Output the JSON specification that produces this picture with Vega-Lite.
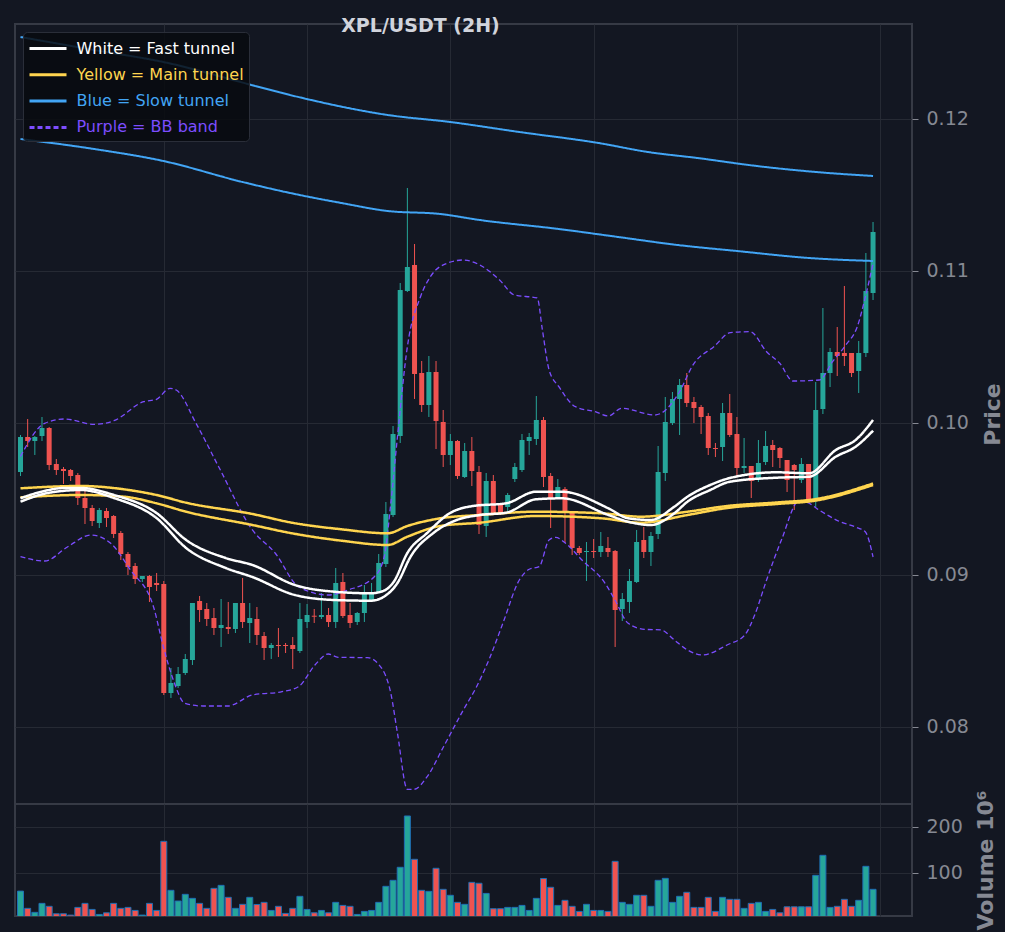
{
  "$schema": "https://vega.github.io/schema/vega-lite/v6.json",
  "background": "#131722",
  "padding": {"left": 14, "top": 16, "right": 0, "bottom": 0},
  "spacing": 0,
  "bounds": "flush",
  "datasets": {
    "candles": [
      {"i":0,"o":0.096776,"h":0.099211,"l":0.096513,"c":0.099079,"v":60},
      {"i":1,"o":0.099079,"h":0.100263,"l":0.098421,"c":0.098816,"v":22.6},
      {"i":2,"o":0.098816,"h":0.099145,"l":0.097895,"c":0.099079,"v":13.9},
      {"i":3,"o":0.099145,"h":0.100395,"l":0.098816,"c":0.099671,"v":33.4},
      {"i":4,"o":0.099671,"h":0.099737,"l":0.096908,"c":0.097237,"v":27},
      {"i":5,"o":0.097303,"h":0.097632,"l":0.096579,"c":0.096908,"v":10.9},
      {"i":6,"o":0.096974,"h":0.097105,"l":0.095987,"c":0.096842,"v":10.9},
      {"i":7,"o":0.096908,"h":0.096974,"l":0.096184,"c":0.096513,"v":8},
      {"i":8,"o":0.096579,"h":0.096711,"l":0.094605,"c":0.095066,"v":24.7},
      {"i":9,"o":0.095066,"h":0.095592,"l":0.093355,"c":0.094408,"v":33.4},
      {"i":10,"o":0.094408,"h":0.094605,"l":0.093224,"c":0.093553,"v":20.3},
      {"i":11,"o":0.093421,"h":0.094408,"l":0.093092,"c":0.094276,"v":9.4},
      {"i":12,"o":0.094211,"h":0.094408,"l":0.093158,"c":0.09375,"v":13},
      {"i":13,"o":0.093882,"h":0.093947,"l":0.092434,"c":0.092697,"v":33.4},
      {"i":14,"o":0.092763,"h":0.092895,"l":0.090987,"c":0.091382,"v":22.6},
      {"i":15,"o":0.091382,"h":0.091513,"l":0.09,"c":0.090526,"v":24.7},
      {"i":16,"o":0.090592,"h":0.090789,"l":0.089408,"c":0.089737,"v":18.1},
      {"i":17,"o":0.089737,"h":0.089934,"l":0.089539,"c":0.089934,"v":8},
      {"i":18,"o":0.089934,"h":0.09,"l":0.088224,"c":0.089211,"v":33.4},
      {"i":19,"o":0.089474,"h":0.090132,"l":0.088947,"c":0.089342,"v":18.1},
      {"i":20,"o":0.089408,"h":0.089605,"l":0.082105,"c":0.082237,"v":168},
      {"i":21,"o":0.082237,"h":0.083882,"l":0.081908,"c":0.082895,"v":61.7},
      {"i":22,"o":0.082697,"h":0.083947,"l":0.082566,"c":0.083487,"v":38.5},
      {"i":23,"o":0.083553,"h":0.084803,"l":0.083421,"c":0.084474,"v":53},
      {"i":24,"o":0.084408,"h":0.088158,"l":0.084079,"c":0.088158,"v":44.3},
      {"i":25,"o":0.088289,"h":0.088618,"l":0.086908,"c":0.087697,"v":33.4},
      {"i":26,"o":0.087763,"h":0.088158,"l":0.086645,"c":0.087105,"v":22.6},
      {"i":27,"o":0.087171,"h":0.087829,"l":0.086053,"c":0.086513,"v":66},
      {"i":28,"o":0.086513,"h":0.088421,"l":0.085263,"c":0.086711,"v":72.5},
      {"i":29,"o":0.086579,"h":0.088224,"l":0.086118,"c":0.086447,"v":46.5},
      {"i":30,"o":0.086447,"h":0.088158,"l":0.086184,"c":0.088158,"v":22.6},
      {"i":31,"o":0.088158,"h":0.089803,"l":0.086513,"c":0.086908,"v":31.3},
      {"i":32,"o":0.086842,"h":0.088158,"l":0.085526,"c":0.087171,"v":46.5},
      {"i":33,"o":0.087105,"h":0.087895,"l":0.085395,"c":0.086053,"v":31},
      {"i":34,"o":0.085987,"h":0.08625,"l":0.084408,"c":0.085197,"v":35.6},
      {"i":35,"o":0.085197,"h":0.085526,"l":0.084474,"c":0.085395,"v":18.1},
      {"i":36,"o":0.085395,"h":0.086513,"l":0.084605,"c":0.085329,"v":27},
      {"i":37,"o":0.085395,"h":0.085526,"l":0.084868,"c":0.085329,"v":11.6},
      {"i":38,"o":0.085395,"h":0.085921,"l":0.083816,"c":0.085132,"v":22.6},
      {"i":39,"o":0.085,"h":0.088158,"l":0.084868,"c":0.087105,"v":48.7},
      {"i":40,"o":0.086908,"h":0.088092,"l":0.086513,"c":0.087368,"v":20.3},
      {"i":41,"o":0.08732,"h":0.087763,"l":0.086842,"c":0.087257,"v":13},
      {"i":42,"o":0.087237,"h":0.088816,"l":0.087105,"c":0.087368,"v":18.1},
      {"i":43,"o":0.087368,"h":0.087829,"l":0.086579,"c":0.086908,"v":13},
      {"i":44,"o":0.086908,"h":0.090461,"l":0.086513,"c":0.089474,"v":35.6},
      {"i":45,"o":0.089539,"h":0.090132,"l":0.087171,"c":0.087303,"v":29},
      {"i":46,"o":0.087368,"h":0.088158,"l":0.086513,"c":0.086842,"v":27},
      {"i":47,"o":0.086908,"h":0.087566,"l":0.086711,"c":0.0875,"v":9.4},
      {"i":48,"o":0.0875,"h":0.089342,"l":0.086908,"c":0.088816,"v":16},
      {"i":49,"o":0.088355,"h":0.089474,"l":0.088224,"c":0.088816,"v":18.1},
      {"i":50,"o":0.088882,"h":0.091382,"l":0.088816,"c":0.090789,"v":35.6},
      {"i":51,"o":0.090724,"h":0.094803,"l":0.090526,"c":0.094013,"v":70.4},
      {"i":52,"o":0.093947,"h":0.099803,"l":0.093816,"c":0.099276,"v":83.4},
      {"i":53,"o":0.099145,"h":0.109211,"l":0.098684,"c":0.10875,"v":111.7},
      {"i":54,"o":0.108684,"h":0.115461,"l":0.108618,"c":0.110263,"v":223},
      {"i":55,"o":0.110395,"h":0.111776,"l":0.101579,"c":0.103224,"v":129},
      {"i":56,"o":0.103289,"h":0.104079,"l":0.100724,"c":0.101184,"v":61.7},
      {"i":57,"o":0.101184,"h":0.104408,"l":0.100395,"c":0.103355,"v":59.5},
      {"i":58,"o":0.103355,"h":0.104079,"l":0.098289,"c":0.100132,"v":109.5},
      {"i":59,"o":0.100066,"h":0.100855,"l":0.097105,"c":0.097895,"v":63.9},
      {"i":60,"o":0.097895,"h":0.099276,"l":0.097237,"c":0.098816,"v":50.9},
      {"i":61,"o":0.098816,"h":0.098882,"l":0.096316,"c":0.096513,"v":35.6},
      {"i":62,"o":0.096447,"h":0.098684,"l":0.096382,"c":0.098158,"v":31.3},
      {"i":63,"o":0.098158,"h":0.099079,"l":0.095855,"c":0.096842,"v":79},
      {"i":64,"o":0.096776,"h":0.097171,"l":0.092697,"c":0.093289,"v":77},
      {"i":65,"o":0.093224,"h":0.096711,"l":0.0925,"c":0.096184,"v":55},
      {"i":66,"o":0.096184,"h":0.096579,"l":0.093947,"c":0.094079,"v":21.8},
      {"i":67,"o":0.094605,"h":0.094737,"l":0.093947,"c":0.094079,"v":21.8},
      {"i":68,"o":0.094474,"h":0.095395,"l":0.094079,"c":0.095263,"v":24.7},
      {"i":69,"o":0.096316,"h":0.097368,"l":0.096118,"c":0.097105,"v":24.7},
      {"i":70,"o":0.096908,"h":0.099276,"l":0.096776,"c":0.098882,"v":29},
      {"i":71,"o":0.098816,"h":0.099342,"l":0.097895,"c":0.099079,"v":18.1},
      {"i":72,"o":0.098947,"h":0.101776,"l":0.098553,"c":0.100197,"v":44.3},
      {"i":73,"o":0.100197,"h":0.100395,"l":0.095789,"c":0.096447,"v":87.3},
      {"i":74,"o":0.096513,"h":0.096711,"l":0.093092,"c":0.095066,"v":68.3},
      {"i":75,"o":0.095132,"h":0.096316,"l":0.095066,"c":0.095789,"v":29},
      {"i":76,"o":0.095658,"h":0.095789,"l":0.092105,"c":0.094079,"v":40},
      {"i":77,"o":0.094079,"h":0.094079,"l":0.091316,"c":0.091776,"v":27},
      {"i":78,"o":0.091776,"h":0.091908,"l":0.091316,"c":0.091447,"v":16},
      {"i":79,"o":0.091513,"h":0.092171,"l":0.089605,"c":0.091579,"v":31.3},
      {"i":80,"o":0.091579,"h":0.092368,"l":0.091118,"c":0.091513,"v":18.1},
      {"i":81,"o":0.091513,"h":0.092829,"l":0.091184,"c":0.091908,"v":18.1},
      {"i":82,"o":0.091776,"h":0.0925,"l":0.091184,"c":0.091513,"v":16},
      {"i":83,"o":0.091579,"h":0.091645,"l":0.085263,"c":0.087697,"v":124.6},
      {"i":84,"o":0.087763,"h":0.088816,"l":0.086974,"c":0.088421,"v":35.6},
      {"i":85,"o":0.088224,"h":0.090395,"l":0.0875,"c":0.089605,"v":31.3},
      {"i":86,"o":0.089539,"h":0.092961,"l":0.089474,"c":0.092171,"v":50.9},
      {"i":87,"o":0.092303,"h":0.093158,"l":0.091118,"c":0.091513,"v":50.9},
      {"i":88,"o":0.091513,"h":0.092829,"l":0.090592,"c":0.092566,"v":27},
      {"i":89,"o":0.092697,"h":0.098487,"l":0.092368,"c":0.096776,"v":83.4},
      {"i":90,"o":0.096711,"h":0.101711,"l":0.096184,"c":0.100066,"v":87.7},
      {"i":91,"o":0.1,"h":0.102039,"l":0.099868,"c":0.101579,"v":35.6},
      {"i":92,"o":0.101579,"h":0.102895,"l":0.099211,"c":0.1025,"v":48.7},
      {"i":93,"o":0.1025,"h":0.103289,"l":0.101053,"c":0.101316,"v":57.4},
      {"i":94,"o":0.101382,"h":0.101711,"l":0.1,"c":0.100987,"v":24.7},
      {"i":95,"o":0.101053,"h":0.101184,"l":0.099276,"c":0.100395,"v":24.7},
      {"i":96,"o":0.100461,"h":0.100658,"l":0.097895,"c":0.098355,"v":46.5},
      {"i":97,"o":0.098355,"h":0.098684,"l":0.097763,"c":0.098289,"v":16},
      {"i":98,"o":0.098421,"h":0.101316,"l":0.0975,"c":0.100658,"v":46.5},
      {"i":99,"o":0.100658,"h":0.101908,"l":0.099079,"c":0.099211,"v":42.2},
      {"i":100,"o":0.099276,"h":0.100395,"l":0.096447,"c":0.097039,"v":42.2},
      {"i":101,"o":0.097039,"h":0.099013,"l":0.096711,"c":0.097171,"v":22.6},
      {"i":102,"o":0.097171,"h":0.097171,"l":0.095066,"c":0.096184,"v":33.4},
      {"i":103,"o":0.09625,"h":0.098882,"l":0.096118,"c":0.097368,"v":35.6},
      {"i":104,"o":0.097434,"h":0.099474,"l":0.097237,"c":0.098487,"v":16},
      {"i":105,"o":0.098553,"h":0.098882,"l":0.097105,"c":0.098224,"v":20.3},
      {"i":106,"o":0.098355,"h":0.098421,"l":0.097039,"c":0.097697,"v":13},
      {"i":107,"o":0.097566,"h":0.097566,"l":0.095461,"c":0.09625,"v":26},
      {"i":108,"o":0.097237,"h":0.097303,"l":0.094276,"c":0.096908,"v":26},
      {"i":109,"o":0.09625,"h":0.097697,"l":0.096053,"c":0.097303,"v":26},
      {"i":110,"o":0.097303,"h":0.097303,"l":0.094803,"c":0.094934,"v":26},
      {"i":111,"o":0.094934,"h":0.102697,"l":0.094474,"c":0.100855,"v":94.2},
      {"i":112,"o":0.100921,"h":0.107566,"l":0.100592,"c":0.103289,"v":137.7},
      {"i":113,"o":0.103289,"h":0.104934,"l":0.102368,"c":0.104671,"v":24.7},
      {"i":114,"o":0.104671,"h":0.106316,"l":0.103092,"c":0.104408,"v":27},
      {"i":115,"o":0.104605,"h":0.109013,"l":0.10375,"c":0.104408,"v":42.2},
      {"i":116,"o":0.104605,"h":0.104605,"l":0.103026,"c":0.103289,"v":27},
      {"i":117,"o":0.103421,"h":0.105395,"l":0.101974,"c":0.104605,"v":40},
      {"i":118,"o":0.104605,"h":0.111184,"l":0.104342,"c":0.108684,"v":113.8},
      {"i":119,"o":0.108553,"h":0.113224,"l":0.108092,"c":0.112566,"v":63.9}
    ],
    "lines": [
      {"s":"W","b":"w1","i":0,"p":0.095046},{"s":"W","b":"w1","i":2.93,"p":0.09548},{"s":"W","b":"w1","i":6.14,"p":0.095724},{"s":"W","b":"w1","i":8.45,"p":0.095724},{"s":"W","b":"w1","i":13.04,"p":0.095263},{"s":"W","b":"w1","i":18.98,"p":0.094079},{"s":"W","b":"w1","i":23.12,"p":0.092303},{"s":"W","b":"w1","i":28.64,"p":0.091118},{"s":"W","b":"w1","i":32.37,"p":0.090658},{"s":"W","b":"w1","i":38.3,"p":0.089342},{"s":"W","b":"w1","i":43.82,"p":0.088901},{"s":"W","b":"w1","i":48.93,"p":0.088796},{"s":"W","b":"w1","i":50.72,"p":0.088967},{"s":"W","b":"w1","i":52.11,"p":0.089559},{"s":"W","b":"w1","i":54,"p":0.091447},{"s":"W","b":"w1","i":56.76,"p":0.092763},{"s":"W","b":"w1","i":59.97,"p":0.094079},{"s":"W","b":"w1","i":63.15,"p":0.094539},{"s":"W","b":"w1","i":67.8,"p":0.094717},{"s":"W","b":"w1","i":71.94,"p":0.09548},{"s":"W","b":"w1","i":75.57,"p":0.09548},{"s":"W","b":"w1","i":82.06,"p":0.094388},{"s":"W","b":"w1","i":84.82,"p":0.09373},{"s":"W","b":"w1","i":87.99,"p":0.093618},{"s":"W","b":"w1","i":91.26,"p":0.094493},{"s":"W","b":"w1","i":93.1,"p":0.095151},{"s":"W","b":"w1","i":96.27,"p":0.095921},{"s":"W","b":"w1","i":99.03,"p":0.096382},{"s":"W","b":"w1","i":105.52,"p":0.096757},{"s":"W","b":"w1","i":110.08,"p":0.096691},{"s":"W","b":"w1","i":113.8,"p":0.098224},{"s":"W","b":"w1","i":116.57,"p":0.098882},{"s":"W","b":"w1","i":119,"p":0.100197},
      {"s":"W","b":"w2","i":0,"p":0.094822},{"s":"W","b":"w2","i":3.8,"p":0.095395},{"s":"W","b":"w2","i":8.45,"p":0.095592},{"s":"W","b":"w2","i":13.04,"p":0.095066},{"s":"W","b":"w2","i":18.98,"p":0.09375},{"s":"W","b":"w2","i":23.12,"p":0.091776},{"s":"W","b":"w2","i":28.64,"p":0.090461},{"s":"W","b":"w2","i":32.37,"p":0.089868},{"s":"W","b":"w2","i":38.3,"p":0.088684},{"s":"W","b":"w2","i":43.82,"p":0.088355},{"s":"W","b":"w2","i":48.93,"p":0.088309},{"s":"W","b":"w2","i":50.72,"p":0.088572},{"s":"W","b":"w2","i":52.62,"p":0.089474},{"s":"W","b":"w2","i":54.45,"p":0.091204},{"s":"W","b":"w2","i":57.63,"p":0.092763},{"s":"W","b":"w2","i":60.9,"p":0.093618},{"s":"W","b":"w2","i":64.11,"p":0.093947},{"s":"W","b":"w2","i":67.8,"p":0.094099},{"s":"W","b":"w2","i":71.94,"p":0.09498},{"s":"W","b":"w2","i":75.57,"p":0.095046},{"s":"W","b":"w2","i":82.06,"p":0.093947},{"s":"W","b":"w2","i":84.82,"p":0.093507},{"s":"W","b":"w2","i":87.99,"p":0.093289},{"s":"W","b":"w2","i":91.26,"p":0.094059},{"s":"W","b":"w2","i":93.1,"p":0.094822},{"s":"W","b":"w2","i":96.27,"p":0.095592},{"s":"W","b":"w2","i":99.03,"p":0.096138},{"s":"W","b":"w2","i":105.52,"p":0.096401},{"s":"W","b":"w2","i":110.08,"p":0.096467},{"s":"W","b":"w2","i":113.8,"p":0.097783},{"s":"W","b":"w2","i":116.57,"p":0.098441},{"s":"W","b":"w2","i":119,"p":0.099493},
      {"s":"Y","b":"y1","i":0,"p":0.095704},{"s":"Y","b":"y1","i":8.45,"p":0.095855},{"s":"Y","b":"y1","i":14.42,"p":0.095638},{"s":"Y","b":"y1","i":18.98,"p":0.095263},{"s":"Y","b":"y1","i":23.12,"p":0.094757},{"s":"Y","b":"y1","i":32.37,"p":0.094013},{"s":"Y","b":"y1","i":37.89,"p":0.093441},{"s":"Y","b":"y1","i":44.79,"p":0.093007},{"s":"Y","b":"y1","i":51.24,"p":0.092743},{"s":"Y","b":"y1","i":54,"p":0.093224},{"s":"Y","b":"y1","i":58.59,"p":0.09373},{"s":"Y","b":"y1","i":64.11,"p":0.093947},{"s":"Y","b":"y1","i":71.94,"p":0.094164},{"s":"Y","b":"y1","i":81.09,"p":0.094059},{"s":"Y","b":"y1","i":86.61,"p":0.093836},{"s":"Y","b":"y1","i":93.1,"p":0.094164},{"s":"Y","b":"y1","i":98.62,"p":0.094539},{"s":"Y","b":"y1","i":105.52,"p":0.09477},{"s":"Y","b":"y1","i":111.04,"p":0.095},{"s":"Y","b":"y1","i":119,"p":0.09602},
      {"s":"Y","b":"y2","i":0,"p":0.095112},{"s":"Y","b":"y2","i":8.45,"p":0.095263},{"s":"Y","b":"y2","i":14.42,"p":0.095151},{"s":"Y","b":"y2","i":18.98,"p":0.094717},{"s":"Y","b":"y2","i":23.12,"p":0.094164},{"s":"Y","b":"y2","i":32.37,"p":0.093289},{"s":"Y","b":"y2","i":37.89,"p":0.092743},{"s":"Y","b":"y2","i":44.79,"p":0.092257},{"s":"Y","b":"y2","i":51.24,"p":0.091974},{"s":"Y","b":"y2","i":54,"p":0.09252},{"s":"Y","b":"y2","i":58.59,"p":0.093224},{"s":"Y","b":"y2","i":64.11,"p":0.093441},{"s":"Y","b":"y2","i":71.94,"p":0.093882},{"s":"Y","b":"y2","i":81.09,"p":0.09373},{"s":"Y","b":"y2","i":86.61,"p":0.093441},{"s":"Y","b":"y2","i":93.1,"p":0.093947},{"s":"Y","b":"y2","i":98.62,"p":0.094408},{"s":"Y","b":"y2","i":105.52,"p":0.094671},{"s":"Y","b":"y2","i":111.04,"p":0.094901},{"s":"Y","b":"y2","i":119,"p":0.095921},
      {"s":"B","b":"b1","i":0,"p":0.125395},{"s":"B","b":"b1","i":10.28,"p":0.124539},{"s":"B","b":"b1","i":19.94,"p":0.12375},{"s":"B","b":"b1","i":33.33,"p":0.122105},{"s":"B","b":"b1","i":39.96,"p":0.121316},{"s":"B","b":"b1","i":51.28,"p":0.120263},{"s":"B","b":"b1","i":59.97,"p":0.119803},{"s":"B","b":"b1","i":69.63,"p":0.119145},{"s":"B","b":"b1","i":80.68,"p":0.118421},{"s":"B","b":"b1","i":87.58,"p":0.117829},{"s":"B","b":"b1","i":94.48,"p":0.117434},{"s":"B","b":"b1","i":102.76,"p":0.116908},{"s":"B","b":"b1","i":111.04,"p":0.116513},{"s":"B","b":"b1","i":119,"p":0.11625},
      {"s":"B","b":"b2","i":0,"p":0.118684},{"s":"B","b":"b2","i":10.28,"p":0.118026},{"s":"B","b":"b2","i":19.94,"p":0.117237},{"s":"B","b":"b2","i":30.99,"p":0.115855},{"s":"B","b":"b2","i":38.3,"p":0.115066},{"s":"B","b":"b2","i":44.79,"p":0.114474},{"s":"B","b":"b2","i":51.28,"p":0.113947},{"s":"B","b":"b2","i":58.59,"p":0.11375},{"s":"B","b":"b2","i":64.11,"p":0.113355},{"s":"B","b":"b2","i":75.15,"p":0.112763},{"s":"B","b":"b2","i":83.44,"p":0.112237},{"s":"B","b":"b2","i":91.72,"p":0.111711},{"s":"B","b":"b2","i":100,"p":0.111316},{"s":"B","b":"b2","i":110.08,"p":0.110855},{"s":"B","b":"b2","i":119,"p":0.110658},
      {"s":"P","b":"pu","i":0,"p":0.0978},{"s":"P","b":"pu","i":3.38,"p":0.09998},{"s":"P","b":"pu","i":6.14,"p":0.100263},{"s":"P","b":"pu","i":10.28,"p":0.099914},{"s":"P","b":"pu","i":13.04,"p":0.100151},{"s":"P","b":"pu","i":17.18,"p":0.101401},{"s":"P","b":"pu","i":18.98,"p":0.101559},{"s":"P","b":"pu","i":20.87,"p":0.102283},{"s":"P","b":"pu","i":21.74,"p":0.102171},{"s":"P","b":"pu","i":24.5,"p":0.09998},{"s":"P","b":"pu","i":27.77,"p":0.09702},{"s":"P","b":"pu","i":32.37,"p":0.092961},{"s":"P","b":"pu","i":35.54,"p":0.091447},{"s":"P","b":"pu","i":38.81,"p":0.08923},{"s":"P","b":"pu","i":42.95,"p":0.088684},{"s":"P","b":"pu","i":45.71,"p":0.089013},{"s":"P","b":"pu","i":49.39,"p":0.089888},{"s":"P","b":"pu","i":50.77,"p":0.091204},{"s":"P","b":"pu","i":51.69,"p":0.094717},{"s":"P","b":"pu","i":52.62,"p":0.099099},{"s":"P","b":"pu","i":54,"p":0.10502},{"s":"P","b":"pu","i":55.83,"p":0.108309},{"s":"P","b":"pu","i":57.21,"p":0.109625},{"s":"P","b":"pu","i":59.52,"p":0.110507},{"s":"P","b":"pu","i":61.81,"p":0.110724},{"s":"P","b":"pu","i":64.11,"p":0.110395},{"s":"P","b":"pu","i":66.87,"p":0.109408},{"s":"P","b":"pu","i":68.94,"p":0.108421},{"s":"P","b":"pu","i":72.12,"p":0.108224},{"s":"P","b":"pu","i":72.85,"p":0.106118},{"s":"P","b":"pu","i":73.78,"p":0.103487},{"s":"P","b":"pu","i":75.15,"p":0.102388},{"s":"P","b":"pu","i":77.46,"p":0.101072},{"s":"P","b":"pu","i":80.22,"p":0.100743},{"s":"P","b":"pu","i":82.06,"p":0.100461},{"s":"P","b":"pu","i":83.89,"p":0.100967},{"s":"P","b":"pu","i":88.5,"p":0.100526},{"s":"P","b":"pu","i":89.41,"p":0.100638},{"s":"P","b":"pu","i":91.72,"p":0.101842},{"s":"P","b":"pu","i":94.02,"p":0.103928},{"s":"P","b":"pu","i":96.78,"p":0.10502},{"s":"P","b":"pu","i":99.08,"p":0.105941},{"s":"P","b":"pu","i":101.84,"p":0.106007},{"s":"P","b":"pu","i":104.14,"p":0.104691},{"s":"P","b":"pu","i":105.98,"p":0.103928},{"s":"P","b":"pu","i":107.83,"p":0.102763},{"s":"P","b":"pu","i":111.5,"p":0.102829},{"s":"P","b":"pu","i":113.35,"p":0.104033},{"s":"P","b":"pu","i":115.19,"p":0.105132},{"s":"P","b":"pu","i":116.8,"p":0.106336},{"s":"P","b":"pu","i":117.94,"p":0.108309},{"s":"P","b":"pu","i":119,"p":0.110507},
      {"s":"P","b":"pl","i":0,"p":0.091204},{"s":"P","b":"pl","i":3.38,"p":0.090921},{"s":"P","b":"pl","i":6.6,"p":0.091862},{"s":"P","b":"pl","i":9.83,"p":0.092632},{"s":"P","b":"pl","i":12.59,"p":0.092086},{"s":"P","b":"pl","i":15.35,"p":0.090329},{"s":"P","b":"pl","i":18.56,"p":0.087914},{"s":"P","b":"pl","i":19.94,"p":0.085283},{"s":"P","b":"pl","i":21.33,"p":0.083092},{"s":"P","b":"pl","i":22.94,"p":0.081559},{"s":"P","b":"pl","i":25.47,"p":0.081382},{"s":"P","b":"pl","i":28.92,"p":0.081382},{"s":"P","b":"pl","i":32.37,"p":0.082105},{"s":"P","b":"pl","i":36.51,"p":0.082322},{"s":"P","b":"pl","i":38.81,"p":0.082651},{"s":"P","b":"pl","i":41.1,"p":0.084079},{"s":"P","b":"pl","i":42.95,"p":0.084803},{"s":"P","b":"pl","i":44.33,"p":0.084586},{"s":"P","b":"pl","i":48.47,"p":0.084559},{"s":"P","b":"pl","i":49.86,"p":0.084191},{"s":"P","b":"pl","i":51.69,"p":0.082217},{"s":"P","b":"pl","i":52.62,"p":0.079586},{"s":"P","b":"pl","i":54,"p":0.075901},{"s":"P","b":"pl","i":54.91,"p":0.075901},{"s":"P","b":"pl","i":56.76,"p":0.07673},{"s":"P","b":"pl","i":59.05,"p":0.078704},{"s":"P","b":"pl","i":61.81,"p":0.081118},{"s":"P","b":"pl","i":63.66,"p":0.082651},{"s":"P","b":"pl","i":65.49,"p":0.084539},{"s":"P","b":"pl","i":67.33,"p":0.086822},{"s":"P","b":"pl","i":69.63,"p":0.089671},{"s":"P","b":"pl","i":71.01,"p":0.090375},{"s":"P","b":"pl","i":72.39,"p":0.090546},{"s":"P","b":"pl","i":73.78,"p":0.092303},{"s":"P","b":"pl","i":74.7,"p":0.09248},{"s":"P","b":"pl","i":76.08,"p":0.092086},{"s":"P","b":"pl","i":78.37,"p":0.090987},{"s":"P","b":"pl","i":81.6,"p":0.089454},{"s":"P","b":"pl","i":82.98,"p":0.088355},{"s":"P","b":"pl","i":84.82,"p":0.086822},{"s":"P","b":"pl","i":87.12,"p":0.086428},{"s":"P","b":"pl","i":89.41,"p":0.086382},{"s":"P","b":"pl","i":91.26,"p":0.085724},{"s":"P","b":"pl","i":93.1,"p":0.085066},{"s":"P","b":"pl","i":95.17,"p":0.084737},{"s":"P","b":"pl","i":98.62,"p":0.085395},{"s":"P","b":"pl","i":101.1,"p":0.086053},{"s":"P","b":"pl","i":102.48,"p":0.087368},{"s":"P","b":"pl","i":104.14,"p":0.089671},{"s":"P","b":"pl","i":106.21,"p":0.092303},{"s":"P","b":"pl","i":108.7,"p":0.094888},{"s":"P","b":"pl","i":109.9,"p":0.094757},{"s":"P","b":"pl","i":111.46,"p":0.094276},{"s":"P","b":"pl","i":114.5,"p":0.093487},{"s":"P","b":"pl","i":116.57,"p":0.093158},{"s":"P","b":"pl","i":117.94,"p":0.092829},{"s":"P","b":"pl","i":119,"p":0.091184}
    ]
  },
  "vconcat": [
    {
      "width": 897,
      "height": 780,
      "title": {"text": "XPL/USDT (2H)", "anchor": "middle", "dx": -43, "dy": 20, "offset": -7, "baseline": "alphabetic", "fontSize": 19, "fontWeight": "bold", "color": "#d1d4dc", "font": "DejaVu Sans"},
      "encoding": {
        "x": {"field": "i", "type": "quantitative", "title": null, "scale": {"domain": [-0.07, 123.74], "nice": false, "zero": false},
              "axis": {"values": [20, 40, 60, 80, 100, 120], "labels": false, "ticks": false, "domain": false, "title": null, "grid": true, "minExtent": 0, "maxExtent": 0}}
      },
      "layer": [
        {
          "data": {"name": "candles"},
          "mark": {"type": "rule", "strokeWidth": 1, "clip": true},
          "encoding": {
            "y": {"field": "l", "type": "quantitative", "title": "Price",
                  "scale": {"domain": [0.074934, 0.12625], "nice": false, "zero": false},
                  "axis": {"orient": "right", "values": [0.08, 0.09, 0.1, 0.11, 0.12], "format": ".2f", "titleAngle": 270, "titlePadding": 36, "grid": true}},
            "y2": {"field": "h"},
            "color": {"condition": {"test": "datum.c >= datum.o", "value": "#26a69a"}, "value": "#ef5350"}
          }
        },
        {
          "data": {"name": "candles"},
          "mark": {"type": "bar", "width": 5, "clip": true},
          "encoding": {
            "y": {"field": "o", "type": "quantitative", "title": "Price"},
            "y2": {"field": "c"},
            "color": {"condition": {"test": "datum.c >= datum.o", "value": "#26a69a"}, "value": "#ef5350"}
          }
        },
        {
          "data": {"name": "lines"},
          "encoding": {
            "y": {"field": "p", "type": "quantitative", "title": "Price"},
            "color": {"field": "s", "type": "nominal",
                      "scale": {"domain": ["W", "Y", "B", "P"], "range": ["#ffffff", "#ffd54f", "#42a5f5", "#7c4dff"]},
                      "legend": {"title": null, "orient": "top-left", "offset": 8,
                                 "labelExpr": "datum.value == 'W' ? 'White = Fast tunnel' : datum.value == 'Y' ? 'Yellow = Main tunnel' : datum.value == 'B' ? 'Blue = Slow tunnel' : 'Purple = BB band'",
                                 "labelColor": {"expr": "datum.value == 'W' ? '#ffffff' : datum.value == 'Y' ? '#ffd54f' : datum.value == 'B' ? '#42a5f5' : '#7c4dff'"},
                                 "labelFontSize": 16, "labelLimit": 400, "symbolType": "M-1.85,0L1.85,0", "symbolSize": 400, "symbolStrokeWidth": 3,
                                 "symbolOffset": 8.5, "labelOffset": 17, "rowPadding": 6.3, "padding": 5,
                                 "fillColor": "rgba(8,10,15,0.85)", "strokeColor": "#2a2e39", "cornerRadius": 4}},
            "strokeDash": {"field": "s", "type": "nominal",
                           "scale": {"domain": ["W", "Y", "B", "P"], "range": [[1, 0], [1, 0], [1, 0], [5, 3]]},
                           "legend": {"title": null, "orient": "top-left", "offset": 8,
                                      "labelExpr": "datum.value == 'W' ? 'White = Fast tunnel' : datum.value == 'Y' ? 'Yellow = Main tunnel' : datum.value == 'B' ? 'Blue = Slow tunnel' : 'Purple = BB band'",
                                      "labelColor": {"expr": "datum.value == 'W' ? '#ffffff' : datum.value == 'Y' ? '#ffd54f' : datum.value == 'B' ? '#42a5f5' : '#7c4dff'"},
                                      "labelFontSize": 16, "labelLimit": 400, "symbolType": "M-1.85,0L1.85,0", "symbolSize": 400, "symbolStrokeWidth": 3,
                                      "symbolOffset": 8.5, "labelOffset": 17, "rowPadding": 6.3, "padding": 5,
                                      "fillColor": "rgba(8,10,15,0.85)", "strokeColor": "#2a2e39", "cornerRadius": 4}},
            "detail": {"field": "b"}
          },
          "layer": [
            {"transform": [{"filter": "datum.s == 'P'"}], "mark": {"type": "line", "strokeWidth": 1.3, "interpolate": "monotone", "clip": true}},
            {"transform": [{"filter": "datum.s == 'B'"}], "mark": {"type": "line", "strokeWidth": 2, "interpolate": "monotone", "clip": true}},
            {"transform": [{"filter": "datum.s == 'Y'"}], "mark": {"type": "line", "strokeWidth": 2.5, "interpolate": "monotone", "clip": true}},
            {"transform": [{"filter": "datum.s == 'W'"}], "mark": {"type": "line", "strokeWidth": 2.5, "interpolate": "monotone", "clip": true}}
          ]
        }
      ]
    },
    {
      "width": 897,
      "height": 112,
      "data": {"name": "candles"},
      "mark": {"type": "bar", "width": 6, "stroke": "#1f6fb4", "strokeWidth": 1, "clip": true},
      "encoding": {
        "x": {"field": "i", "type": "quantitative", "scale": {"domain": [-0.07, 123.74], "nice": false, "zero": false},
              "axis": {"values": [20, 40, 60, 80, 100, 120], "labels": false, "ticks": false, "domain": false, "title": null, "grid": true, "minExtent": 0, "maxExtent": 0}},
        "y": {"field": "v", "type": "quantitative", "title": "Volume  10⁶",
              "scale": {"domain": [6, 249], "nice": false, "zero": false},
              "axis": {"orient": "right", "values": [100, 200], "titleAngle": 270, "titlePadding": 35, "grid": true}},
        "color": {"condition": {"test": "datum.c >= datum.o", "value": "#26a69a"}, "value": "#ef5350"}
      }
    }
  ],
  "config": {
    "font": "DejaVu Sans",
    "concat": {"spacing": 0},
    "view": {"stroke": "#363a45", "strokeWidth": 2, "fill": "#131722"},
    "axis": {"gridColor": "#262a34", "gridWidth": 1, "domain": false, "labelColor": "#868993", "labelFontSize": 19, "labelFont": "DejaVu Sans",
             "tickColor": "#868993", "tickSize": 6, "labelPadding": 8, "titleColor": "#868993", "titleFontSize": 22, "titleFontWeight": "bold", "titleFont": "DejaVu Sans"},
    "legend": {"labelFont": "DejaVu Sans"}
  }
}
